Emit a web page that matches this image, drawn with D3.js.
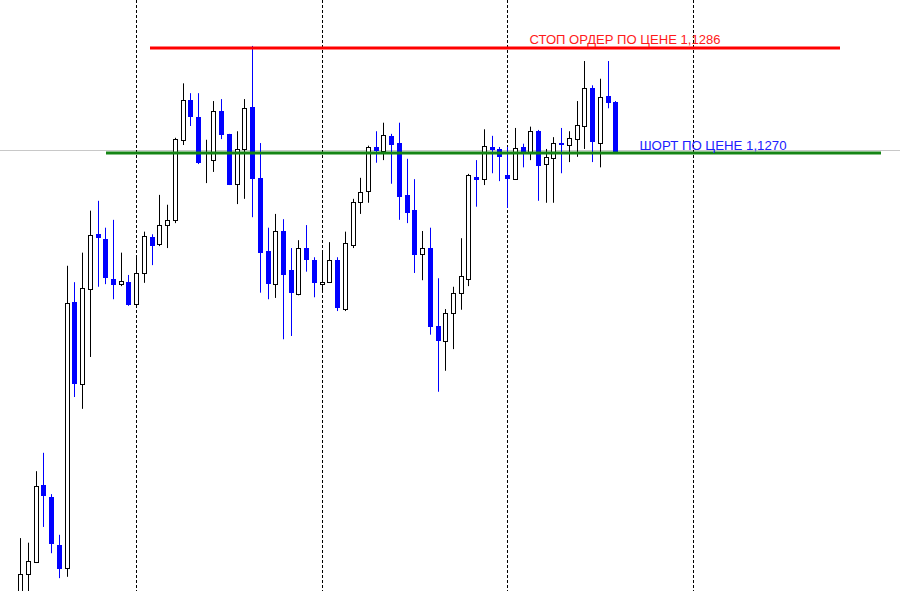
<!DOCTYPE html>
<html><head><meta charset="utf-8">
<script src="https://cdn.jsdelivr.net/npm/d3@7"></script>
<style>html,body{margin:0;padding:0;background:#fff;overflow:hidden}</style>
</head><body>
<svg id="chart" width="900" height="591"></svg>
<script>
const opens  = [1.12022,1.12058,1.12077,1.12194,1.12176,1.12102,1.12067,1.12473,1.12348,1.12493,1.12576,1.12569,1.12508,1.12500,1.12503,1.12470,1.12517,1.12572,1.12561,1.12590,1.12598,1.12720,1.12781,1.12755,1.12688,1.12689,1.12764,1.12729,1.12653,1.12706,1.12770,1.12662,1.12551,1.12500,1.12581,1.12522,1.12485,1.12555,1.12537,1.12500,1.12503,1.12537,1.12462,1.12560,1.12625,1.12642,1.12709,1.12703,1.12726,1.12715,1.12636,1.12613,1.12546,1.12555,1.12436,1.12413,1.12456,1.12487,1.12508,1.12663,1.12660,1.12709,1.12706,1.12666,1.12660,1.12709,1.12701,1.12733,1.12683,1.12692,1.12715,1.12712,1.12721,1.12741,1.12799,1.12715,1.12787,1.12778];
const highs  = [1.12113,1.12106,1.12215,1.12243,1.12180,1.12118,1.12528,1.12503,1.12548,1.12612,1.12627,1.12586,1.12598,1.12548,1.12514,1.12543,1.12580,1.12576,1.12636,1.12621,1.12723,1.12806,1.12791,1.12791,1.12720,1.12779,1.12782,1.12729,1.12733,1.12782,1.12863,1.12715,1.12586,1.12607,1.12599,1.12555,1.12567,1.12590,1.12541,1.12551,1.12564,1.12541,1.12580,1.12630,1.12662,1.12711,1.12733,1.12746,1.12729,1.12746,1.12691,1.12660,1.12581,1.12586,1.12509,1.12462,1.12496,1.12570,1.12668,1.12689,1.12736,1.12726,1.12709,1.12709,1.12738,1.12714,1.12740,1.12735,1.12706,1.12724,1.12738,1.12733,1.12779,1.12840,1.12803,1.12813,1.12840,1.12779];
const lows   = [1.12019,1.12019,1.12075,1.12130,1.12090,1.12052,1.12054,1.12328,1.12310,1.12389,1.12496,1.12500,1.12477,1.12497,1.12467,1.12468,1.12502,1.12529,1.12558,1.12555,1.12593,1.12712,1.12741,1.12683,1.12654,1.12671,1.12721,1.12651,1.12622,1.12630,1.12602,1.12487,1.12477,1.12479,1.12416,1.12421,1.12483,1.12519,1.12480,1.12487,1.12502,1.12459,1.12459,1.12555,1.12607,1.12624,1.12685,1.12689,1.12653,1.12598,1.12593,1.12517,1.12506,1.12423,1.12336,1.12368,1.12401,1.12461,1.12497,1.12618,1.12651,1.12669,1.12657,1.12616,1.12659,1.12678,1.12689,1.12627,1.12624,1.12624,1.12669,1.12686,1.12694,1.12706,1.12686,1.12678,1.12768,1.12701];
const closes = [1.12058,1.12078,1.12192,1.12177,1.12104,1.12066,1.12471,1.12348,1.12494,1.12575,1.12570,1.12509,1.12499,1.12505,1.12468,1.12517,1.12573,1.12558,1.12590,1.12598,1.12721,1.12781,1.12755,1.12685,1.12688,1.12764,1.12727,1.12651,1.12706,1.12768,1.12660,1.12548,1.12500,1.12581,1.12514,1.12487,1.12555,1.12537,1.12502,1.12503,1.12537,1.12464,1.12563,1.12625,1.12640,1.12709,1.12703,1.12727,1.12712,1.12633,1.12608,1.12544,1.12555,1.12435,1.12413,1.12456,1.12487,1.12512,1.12666,1.12659,1.12711,1.12704,1.12694,1.12660,1.12707,1.12701,1.12733,1.12680,1.12694,1.12715,1.12712,1.12723,1.12743,1.12799,1.12717,1.12785,1.12776,1.12701];
const separatorBars = [15, 39, 63, 87];
const stopPrice = 1.1286;
const shortPrice = 1.1270;
const stopLabel = "СТОП ОРДЕР ПО ЦЕНЕ 1,1286";
const shortLabel = "ШОРТ ПО ЦЕНЕ 1,1270";
const bidPrice = 1.12705;

const W = 900, H = 591;
const svg = d3.select("#chart");
const x = d3.scaleLinear().domain([0, 77]).range([20.3, 615.3]);
const y = d3.scaleLinear().domain([1.120324, 1.12933]).range([H, 0]);
const snap = v => Math.round(v) + 0.5;

const data = opens.map((o, i) => ({i, o, h: highs[i], l: lows[i], c: closes[i]}));

// bid line (light grey)
svg.append("line").attr("x1", 0).attr("x2", W)
  .attr("y1", snap(y(bidPrice))).attr("y2", snap(y(bidPrice)))
  .attr("stroke", "#c8c8c8").attr("stroke-width", 1);

// separators
svg.selectAll("line.sep").data(separatorBars).join("line").attr("class", "sep")
  .attr("x1", d => snap(x(d))).attr("x2", d => snap(x(d)))
  .attr("y1", 0).attr("y2", H)
  .attr("stroke", "#000").attr("stroke-width", 1).attr("stroke-dasharray", "3,2");

// candles
const g = svg.append("g");
const bull = d => d.c >= d.o;
g.selectAll("line.wick").data(data).join("line").attr("class", "wick")
  .attr("x1", d => snap(x(d.i))).attr("x2", d => snap(x(d.i)))
  .attr("y1", d => y(d.h)).attr("y2", d => y(d.l))
  .attr("stroke", d => bull(d) ? "#000" : "#0000ff").attr("stroke-width", 1);

g.selectAll("rect.bull").data(data.filter(bull)).join("rect").attr("class", "bull")
  .attr("x", d => snap(x(d.i)) - 2).attr("width", 4)
  .attr("y", d => Math.round(y(d.c)) + 0.5)
  .attr("height", d => Math.max(0, Math.round(y(d.o)) - Math.round(y(d.c))))
  .attr("fill", "#fff").attr("stroke", "#000").attr("stroke-width", 1);

g.selectAll("rect.bear").data(data.filter(d => !bull(d))).join("rect").attr("class", "bear")
  .attr("x", d => snap(x(d.i)) - 2.5).attr("width", 5)
  .attr("y", d => Math.round(y(d.o)))
  .attr("height", d => Math.max(1, Math.round(y(d.c)) - Math.round(y(d.o))))
  .attr("fill", "#0000ff");

// level lines
svg.append("line").attr("x1", 150).attr("x2", 840)
  .attr("y1", y(stopPrice)).attr("y2", y(stopPrice))
  .attr("stroke", "#ff0000").attr("stroke-width", 3);
svg.append("line").attr("x1", 106).attr("x2", 881)
  .attr("y1", y(shortPrice)).attr("y2", y(shortPrice))
  .attr("stroke", "#158515").attr("stroke-width", 3);

svg.append("text").attr("x", 529.5).attr("y", y(stopPrice) - 3.5)
  .attr("font-family", "'Liberation Sans', Arial, sans-serif").attr("font-size", 12)
  .attr("textLength", 191).attr("lengthAdjust", "spacingAndGlyphs")
  .attr("fill", "#ff1a1a").text(stopLabel);
svg.append("text").attr("x", 639.5).attr("y", y(shortPrice) - 2.5)
  .attr("font-family", "'Liberation Sans', Arial, sans-serif").attr("font-size", 12)
  .attr("textLength", 147).attr("lengthAdjust", "spacingAndGlyphs")
  .attr("fill", "#2020ff").text(shortLabel);
</script>
</body></html>
